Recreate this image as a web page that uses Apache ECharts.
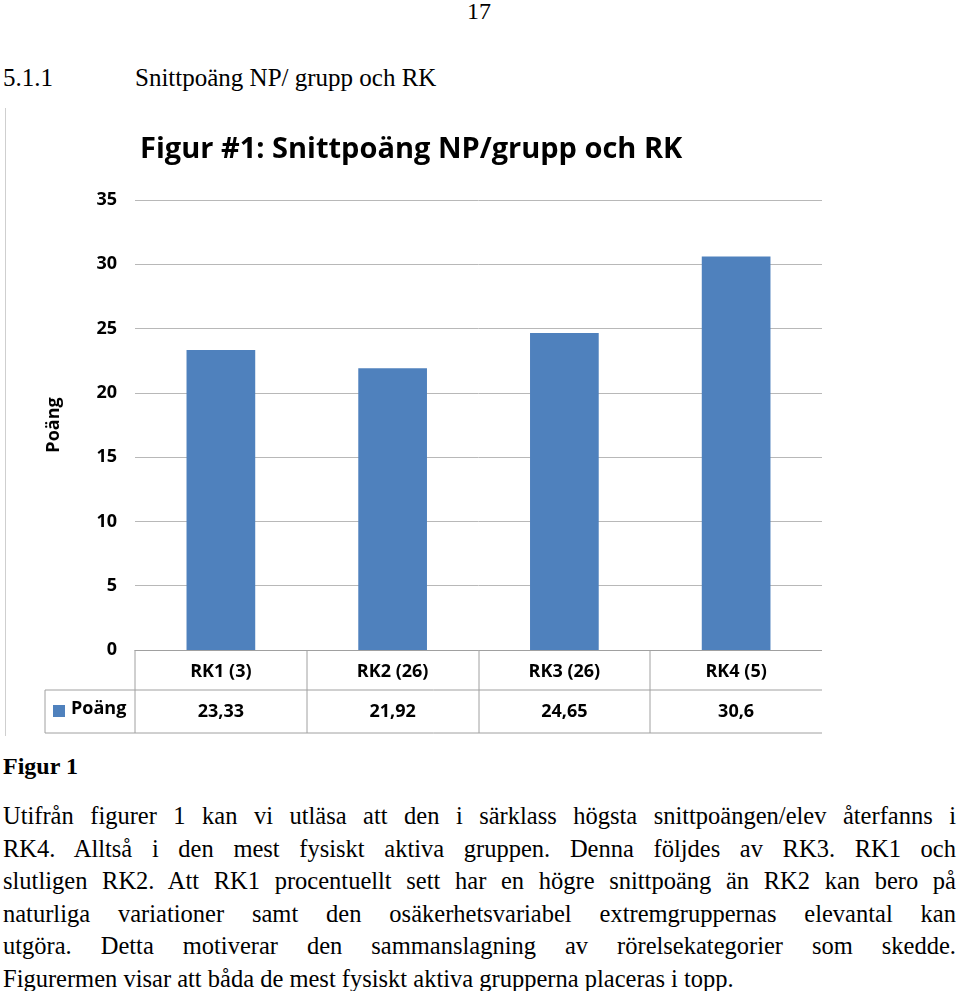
<!DOCTYPE html>
<html>
<head>
<meta charset="utf-8">
<script src="https://cdn.jsdelivr.net/npm/echarts@6/dist/echarts.min.js"></script>
<style>
  body { margin: 0; width: 960px; height: 991px; background: #fff; font-family: "Liberation Serif", serif; position: relative; overflow: hidden; }
  .pg { position: absolute; left: 467px; top: -2px; font-size: 24px; }
  .sec { position: absolute; left: 3px; top: 64px; font-size: 25px; }
  .sec span { position: absolute; left: 132px; white-space: nowrap; }
  .fig { position: absolute; left: 3px; top: 753px; font-size: 24px; font-weight: bold; }
  .txt { position: absolute; left: 3px; top: 800px; width: 953px; font-size: 24.5px; line-height: 32.5px; }
  .txt div { text-align: justify; text-align-last: justify; white-space: nowrap; }
  .txt div.last { text-align-last: left; }
  #chart { position: absolute; left: 5px; top: 108px; width: 817px; height: 628px; }
</style>
</head>
<body>
<div class="pg">17</div>
<div class="sec">5.1.1<span>Snittpoäng NP/ grupp och RK</span></div>
<div id="chart"></div>
<div class="fig">Figur 1</div>
<div class="txt">
<div>Utifrån figurer 1 kan vi utläsa att den i särklass högsta snittpoängen/elev återfanns i</div>
<div>RK4. Alltså i den mest fysiskt aktiva gruppen. Denna följdes av RK3. RK1 och</div>
<div>slutligen RK2. Att RK1 procentuellt sett har en högre snittpoäng än RK2 kan bero på</div>
<div>naturliga variationer samt den osäkerhetsvariabel extremgruppernas elevantal kan</div>
<div>utgöra. Detta motiverar den sammanslagning av rörelsekategorier som skedde.</div>
<div class="last">Figurermen visar att båda de mest fysiskt aktiva grupperna placeras i topp.</div>
</div>
<script>
const categories = ['RK1 (3)', 'RK2 (26)', 'RK3 (26)', 'RK4 (5)']
const values = [23.33, 21.92, 24.65, 30.6]
const valueLabels = ['23,33', '21,92', '24,65', '30,6']
const yTicks = { min: 0, max: 35, interval: 5 }

const chart = echarts.init(document.getElementById('chart'))
const lineStyle = { stroke: '#a0a0a0', lineWidth: 1 }
const font = '"Open Sans", "Liberation Sans", Arial, sans-serif'

chart.setOption({
  animation: false,
  title: {
    text: 'Figur #1: Snittpoäng NP/grupp och RK',
    left: 130, top: 22,
    textStyle: { fontSize: 29, fontWeight: 'bold', color: '#000', fontFamily: font }
  },
  grid: { left: 130, right: 0, top: 92, bottom: 86 },
  xAxis: [
    {
      type: 'category', data: categories,
      axisLine: { lineStyle: { color: '#a0a0a0' } },
      axisTick: { show: false },
      axisLabel: { color: '#000', fontSize: 18, fontWeight: 'bold', margin: 13, fontFamily: font }
    },
    {
      type: 'category', data: valueLabels, position: 'bottom', offset: 42,
      axisLine: { show: false }, axisTick: { show: false },
      axisLabel: { color: '#000', fontSize: 18, fontWeight: 'bold', margin: 11, fontFamily: font }
    }
  ],
  yAxis: {
    type: 'value', min: yTicks.min, max: yTicks.max, interval: yTicks.interval,
    name: 'Poäng', nameLocation: 'middle', nameGap: 72, nameRotate: 90,
    nameTextStyle: { fontSize: 18, fontWeight: 'bold', color: '#000', fontFamily: font },
    axisLine: { show: false }, axisTick: { show: false },
    axisLabel: { color: '#000', fontSize: 18, fontWeight: 'bold', margin: 18, fontFamily: font },
    splitLine: { lineStyle: { color: '#b8b8b8' } }
  },
  series: [{
    type: 'bar', name: 'Poäng', data: values, barWidth: '40%',
    itemStyle: { color: '#4f81bd' }
  }],
  graphic: [
    { type: 'line', shape: { x1: 0, y1: 0, x2: 0, y2: 628 }, style: lineStyle },
    { type: 'line', shape: { x1: 40, y1: 582, x2: 817, y2: 582 }, style: lineStyle },
    { type: 'line', shape: { x1: 40, y1: 625, x2: 817, y2: 625 }, style: lineStyle },
    { type: 'line', shape: { x1: 40, y1: 582, x2: 40, y2: 625 }, style: lineStyle },
    { type: 'line', shape: { x1: 130, y1: 542, x2: 130, y2: 625 }, style: lineStyle },
    { type: 'line', shape: { x1: 302, y1: 542, x2: 302, y2: 625 }, style: lineStyle },
    { type: 'line', shape: { x1: 474, y1: 542, x2: 474, y2: 625 }, style: lineStyle },
    { type: 'line', shape: { x1: 645, y1: 542, x2: 645, y2: 625 }, style: lineStyle },
    { type: 'rect', shape: { x: 48, y: 597, width: 12, height: 12 }, style: { fill: '#4f81bd' } },
    { type: 'text', x: 66, y: 592, style: { text: 'Poäng', font: 'bold 18px ' + font, fill: '#000' } }
  ]
})
</script>
</body>
</html>
